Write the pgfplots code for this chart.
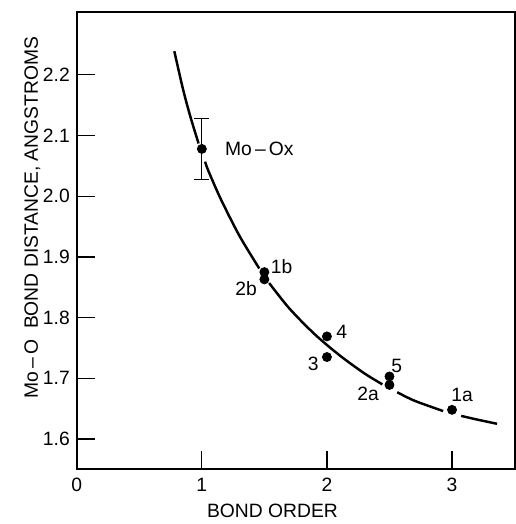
\documentclass[border=0pt]{standalone}
\usepackage{pgfplots}
\pgfplotsset{compat=1.18}
\usepackage{fontspec}
\setmainfont{Liberation Sans}
\begin{document}
\begin{tikzpicture}
\begin{axis}[
  scale only axis,
  width=222.5pt, height=232.5pt,
  xmin=0, xmax=3.5, ymin=1.55, ymax=2.304,
  xtick={0,1,2,3}, ytick={1.6,1.7,1.8,1.9,2.0,2.1,2.2},
  yticklabel style={/pgf/number format/fixed,/pgf/number format/fixed zerofill,/pgf/number format/precision=1},
  /pgf/number format/assume math mode=true,
  tick align=inside,
  xtick pos=bottom, ytick pos=left,
  major tick length=9.5pt,
  tick style={line width=0.6pt, black},
  axis line style={line width=1pt},
  ticklabel style={font=\fontsize{9.8}{11}\selectfont},
  xticklabel style={yshift=-1pt},
  xlabel={BOND ORDER},
  ylabel={Mo\,–\,O\ \ BOND\ DISTANCE,\ ANGSTROMS},
  label style={font=\fontsize{9.8}{11}\selectfont},
  xlabel style={at={(axis description cs:0.447,0)}, anchor=north, yshift=-14pt},
  ylabel style={at={(axis description cs:0,0.55)}, anchor=south, yshift=15pt},
  clip=false,
]
% curve segments (drawn with gaps around labelled points)
\addplot[black, line width=1.25pt, smooth] coordinates {(0.78,2.239) (0.85,2.176) (0.91,2.130) (0.974,2.087)};
\addplot[black, line width=1.25pt, smooth] coordinates {(1.026,2.057) (1.05,2.043) (1.15,1.996) (1.3,1.935) (1.459,1.881)};
\addplot[black, line width=1.25pt, smooth] coordinates {(1.538,1.857) (1.7,1.815) (1.9,1.773) (2.1,1.738) (2.3,1.708) (2.443,1.690)};
\addplot[black, line width=1.25pt, smooth] coordinates {(2.562,1.677) (2.7,1.663) (2.929,1.646)};
\addplot[black, line width=1.25pt, smooth] coordinates {(3.073,1.638) (3.2,1.632) (3.36,1.625)};
% Mo-Ox with error bar
\addplot[black, only marks, mark=*, mark size=2.3pt,
  error bars/.cd, y dir=both, y explicit,
  error bar style={line width=0.6pt},
  error mark options={rotate=90, mark size=3.75pt, line width=0.6pt}]
  coordinates {(1.0,2.078) +- (0,0.05)};
% data points
\addplot[black, only marks, mark=*, mark size=2.3pt] coordinates {
  (1.5,1.875) (1.5,1.863) (2.0,1.769) (2.0,1.735) (2.5,1.703) (2.5,1.689) (3.0,1.648)};
% labels
\begin{scope}[font=\fontsize{9.8}{11}\selectfont]
\node[anchor=west] at (axis cs:1.13,2.078) {Mo\,–\,Ox};
\node at (axis cs:1.638,1.884) {1b};
\node at (axis cs:1.354,1.847) {2b};
\node at (axis cs:2.118,1.777) {4};
\node at (axis cs:1.89,1.724) {3};
\node at (axis cs:2.559,1.7206) {5};
\node at (axis cs:2.33,1.675) {2a};
\node at (axis cs:3.08,1.672) {1a};
\end{scope}
% bounding box to match reference margins
\path (rel axis cs:-0.1753,-0.0989) rectangle (rel axis cs:1.0022,1.0258);
\end{axis}
\end{tikzpicture}
\end{document}
